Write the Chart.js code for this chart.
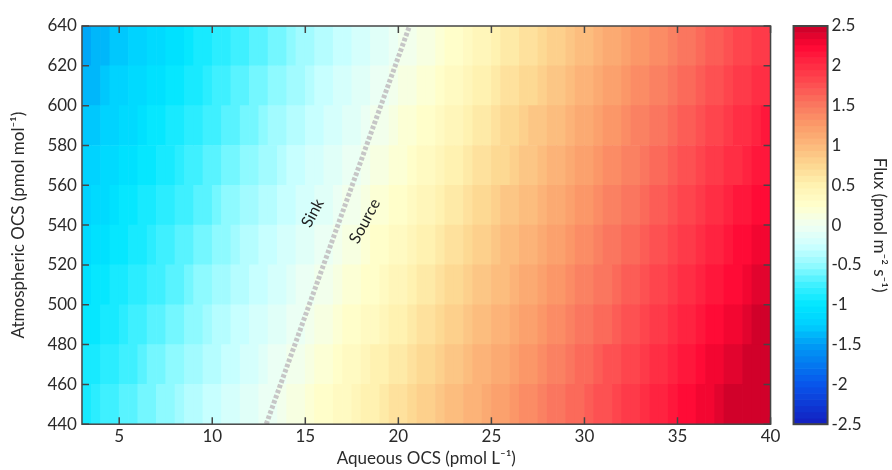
<!DOCTYPE html>
<html>
<head>
<meta charset="utf-8">
<title>OCS flux</title>
<script src="https://cdn.jsdelivr.net/npm/chart.js@4.4.1/dist/chart.umd.min.js"></script>
<style>
  body { margin: 0; background: #fff; }
  #wrap { width: 892px; height: 470px; }
</style>
</head>
<body>
<div id="wrap"><canvas id="chart"></canvas></div>
<script>
// cell centres, aqueous OCS (pmol L-1), 0.5 wide
const aqueousOCS = [3.25, 3.75, 4.25, 4.75, 5.25, 5.75, 6.25, 6.75, 7.25, 7.75,
  8.25, 8.75, 9.25, 9.75, 10.25, 10.75, 11.25, 11.75, 12.25, 12.75,
  13.25, 13.75, 14.25, 14.75, 15.25, 15.75, 16.25, 16.75, 17.25, 17.75,
  18.25, 18.75, 19.25, 19.75, 20.25, 20.75, 21.25, 21.75, 22.25, 22.75,
  23.25, 23.75, 24.25, 24.75, 25.25, 25.75, 26.25, 26.75, 27.25, 27.75,
  28.25, 28.75, 29.25, 29.75, 30.25, 30.75, 31.25, 31.75, 32.25, 32.75,
  33.25, 33.75, 34.25, 34.75, 35.25, 35.75, 36.25, 36.75, 37.25, 37.75,
  38.25, 38.75, 39.25, 39.75];

// row centres, atmospheric OCS (pmol mol-1), 20 tall
const atmosphericOCS = [450, 470, 490, 510, 530, 550, 570, 590, 610, 630];

// flux (pmol m-2 s-1), one row per atmospheric level
const flux450 = [-0.86,-0.81,-0.77,-0.73,-0.69,-0.64,-0.60,-0.56,-0.52,-0.47,
  -0.43,-0.39,-0.35,-0.30,-0.26,-0.22,-0.18,-0.13,-0.09,-0.05,
  -0.01,0.04,0.09,0.14,0.19,0.24,0.29,0.34,0.39,0.44,
  0.49,0.54,0.59,0.64,0.69,0.74,0.79,0.84,0.89,0.94,
  0.99,1.04,1.09,1.14,1.19,1.24,1.29,1.34,1.39,1.44,
  1.49,1.54,1.59,1.64,1.69,1.74,1.79,1.84,1.89,1.94,
  1.99,2.04,2.09,2.14,2.19,2.24,2.29,2.34,2.39,2.44,
  2.49,2.54,2.59,2.64];
const flux470 = [-0.92,-0.88,-0.84,-0.79,-0.75,-0.71,-0.67,-0.62,-0.58,-0.54,
  -0.50,-0.45,-0.41,-0.37,-0.33,-0.28,-0.24,-0.20,-0.16,-0.11,
  -0.07,-0.03,0.02,0.07,0.12,0.17,0.22,0.27,0.32,0.37,
  0.42,0.47,0.52,0.57,0.62,0.67,0.72,0.77,0.82,0.87,
  0.92,0.97,1.02,1.07,1.12,1.17,1.22,1.27,1.32,1.37,
  1.42,1.47,1.52,1.57,1.62,1.67,1.72,1.77,1.82,1.87,
  1.92,1.97,2.02,2.07,2.12,2.17,2.22,2.27,2.32,2.37,
  2.42,2.47,2.52,2.57];
const flux490 = [-0.99,-0.94,-0.90,-0.86,-0.82,-0.77,-0.73,-0.69,-0.65,-0.60,
  -0.56,-0.52,-0.48,-0.43,-0.39,-0.35,-0.31,-0.26,-0.22,-0.18,
  -0.14,-0.09,-0.05,-0.01,0.04,0.09,0.14,0.19,0.24,0.29,
  0.34,0.39,0.44,0.49,0.54,0.59,0.64,0.69,0.74,0.79,
  0.84,0.89,0.94,0.99,1.04,1.09,1.14,1.19,1.24,1.29,
  1.34,1.39,1.44,1.49,1.54,1.59,1.64,1.69,1.74,1.79,
  1.84,1.89,1.94,1.99,2.04,2.09,2.14,2.19,2.24,2.29,
  2.34,2.39,2.44,2.49];
const flux510 = [-1.05,-1.01,-0.97,-0.92,-0.88,-0.84,-0.80,-0.75,-0.71,-0.67,
  -0.63,-0.58,-0.54,-0.50,-0.46,-0.41,-0.37,-0.33,-0.29,-0.24,
  -0.20,-0.16,-0.12,-0.07,-0.03,0.01,0.06,0.11,0.16,0.21,
  0.26,0.31,0.36,0.41,0.46,0.51,0.56,0.61,0.66,0.71,
  0.76,0.81,0.86,0.91,0.96,1.01,1.06,1.11,1.16,1.21,
  1.26,1.31,1.36,1.41,1.46,1.51,1.56,1.61,1.66,1.71,
  1.76,1.81,1.86,1.91,1.96,2.01,2.06,2.11,2.16,2.21,
  2.26,2.31,2.36,2.41];
const flux530 = [-1.12,-1.07,-1.03,-0.99,-0.95,-0.90,-0.86,-0.82,-0.78,-0.73,
  -0.69,-0.65,-0.61,-0.56,-0.52,-0.48,-0.44,-0.39,-0.35,-0.31,
  -0.27,-0.22,-0.18,-0.14,-0.10,-0.05,-0.01,0.04,0.09,0.14,
  0.19,0.24,0.29,0.34,0.39,0.44,0.49,0.54,0.59,0.64,
  0.69,0.74,0.79,0.84,0.89,0.94,0.99,1.04,1.09,1.14,
  1.19,1.24,1.29,1.34,1.39,1.44,1.49,1.54,1.59,1.64,
  1.69,1.74,1.79,1.84,1.89,1.94,1.99,2.04,2.09,2.14,
  2.19,2.24,2.29,2.34];
const flux550 = [-1.18,-1.14,-1.10,-1.05,-1.01,-0.97,-0.93,-0.88,-0.84,-0.80,
  -0.76,-0.71,-0.67,-0.63,-0.59,-0.54,-0.50,-0.46,-0.42,-0.37,
  -0.33,-0.29,-0.25,-0.20,-0.16,-0.12,-0.08,-0.03,0.01,0.06,
  0.11,0.16,0.21,0.26,0.31,0.36,0.41,0.46,0.51,0.56,
  0.61,0.66,0.71,0.76,0.81,0.86,0.91,0.96,1.01,1.06,
  1.11,1.16,1.21,1.26,1.31,1.36,1.41,1.46,1.51,1.56,
  1.61,1.66,1.71,1.76,1.81,1.86,1.91,1.96,2.01,2.06,
  2.11,2.16,2.21,2.26];
const flux570 = [-1.25,-1.20,-1.16,-1.12,-1.08,-1.03,-0.99,-0.95,-0.91,-0.86,
  -0.82,-0.78,-0.74,-0.69,-0.65,-0.61,-0.57,-0.52,-0.48,-0.44,
  -0.40,-0.35,-0.31,-0.27,-0.23,-0.18,-0.14,-0.10,-0.06,-0.01,
  0.03,0.08,0.13,0.18,0.23,0.28,0.33,0.38,0.43,0.48,
  0.53,0.58,0.63,0.68,0.73,0.78,0.83,0.88,0.93,0.98,
  1.03,1.08,1.13,1.18,1.23,1.28,1.33,1.38,1.43,1.48,
  1.53,1.58,1.63,1.68,1.73,1.78,1.83,1.88,1.93,1.98,
  2.03,2.08,2.13,2.18];
const flux590 = [-1.31,-1.27,-1.23,-1.18,-1.14,-1.10,-1.06,-1.01,-0.97,-0.93,
  -0.89,-0.84,-0.80,-0.76,-0.72,-0.67,-0.63,-0.59,-0.55,-0.50,
  -0.46,-0.42,-0.38,-0.33,-0.29,-0.25,-0.21,-0.16,-0.12,-0.08,
  -0.04,0.01,0.06,0.11,0.16,0.21,0.26,0.31,0.36,0.41,
  0.46,0.51,0.56,0.61,0.66,0.71,0.76,0.81,0.86,0.91,
  0.96,1.01,1.06,1.11,1.16,1.21,1.26,1.31,1.36,1.41,
  1.46,1.51,1.56,1.61,1.66,1.71,1.76,1.81,1.86,1.91,
  1.96,2.01,2.06,2.11];
const flux610 = [-1.38,-1.33,-1.29,-1.25,-1.21,-1.16,-1.12,-1.08,-1.04,-0.99,
  -0.95,-0.91,-0.87,-0.82,-0.78,-0.74,-0.70,-0.65,-0.61,-0.57,
  -0.53,-0.48,-0.44,-0.40,-0.36,-0.31,-0.27,-0.23,-0.19,-0.14,
  -0.10,-0.06,-0.02,0.03,0.08,0.13,0.18,0.23,0.28,0.33,
  0.38,0.43,0.48,0.53,0.58,0.63,0.68,0.73,0.78,0.83,
  0.88,0.93,0.98,1.03,1.08,1.13,1.18,1.23,1.28,1.33,
  1.38,1.43,1.48,1.53,1.58,1.63,1.68,1.73,1.78,1.83,
  1.88,1.93,1.98,2.03];
const flux630 = [-1.44,-1.40,-1.36,-1.31,-1.27,-1.23,-1.19,-1.14,-1.10,-1.06,
  -1.02,-0.97,-0.93,-0.89,-0.85,-0.80,-0.76,-0.72,-0.68,-0.63,
  -0.59,-0.55,-0.51,-0.46,-0.42,-0.38,-0.34,-0.29,-0.25,-0.21,
  -0.17,-0.12,-0.08,-0.04,0.00,0.05,0.10,0.15,0.20,0.25,
  0.30,0.35,0.40,0.45,0.50,0.55,0.60,0.65,0.70,0.75,
  0.80,0.85,0.90,0.95,1.00,1.05,1.10,1.15,1.20,1.25,
  1.30,1.35,1.40,1.45,1.50,1.55,1.60,1.65,1.70,1.75,
  1.80,1.85,1.90,1.95];
const fluxRows = [flux450, flux470, flux490, flux510, flux530, flux550, flux570, flux590, flux610, flux630];

// zero-flux line between sink and source
const boundaryAqueous = [12.9, 20.6];
const boundaryAtm = [440, 640];

const xTicks = [5, 10, 15, 20, 25, 30, 35, 40];
const yTicks = [440, 460, 480, 500, 520, 540, 560, 580, 600, 620, 640];
const fluxTicks = [-2.5, -2, -1.5, -1, -0.5, 0, 0.5, 1, 1.5, 2, 2.5];

// colour map (value, r, g, b), 64 steps like the colour bar
const cmapStops = [
  [-2.5, 20, 30, 190], [-2.0, 8, 85, 235], [-1.5, 0, 155, 245], [-1.25, 0, 208, 255],
  [-1.0, 0, 230, 255], [-0.75, 60, 240, 255], [-0.5, 145, 250, 255], [-0.25, 205, 255, 255],
  [0, 240, 255, 242], [0.25, 255, 255, 205], [0.5, 255, 243, 178], [0.75, 253, 216, 146],
  [1.0, 252, 186, 124], [1.25, 251, 156, 106], [1.5, 250, 122, 96], [1.75, 253, 82, 82],
  [2.0, 255, 45, 68], [2.25, 255, 8, 52], [2.5, 200, 0, 40]
];
const LEVELS = 64;

function fluxColor(v) {
  let lvl = Math.floor((v + 2.5) / 5 * LEVELS);
  lvl = Math.max(0, Math.min(LEVELS - 1, lvl));
  const t = -2.5 + (lvl + 0.5) * 5 / LEVELS;
  for (let i = 1; i < cmapStops.length; i++) {
    const a = cmapStops[i - 1], b = cmapStops[i];
    if (t <= b[0]) {
      const f = (t - a[0]) / (b[0] - a[0]);
      const c = [1, 2, 3].map(k => Math.round(a[k] + (b[k] - a[k]) * f));
      return 'rgb(' + c.join(',') + ')';
    }
  }
  return 'rgb(200,0,40)';
}

const FONT = "Lato, 'Open Sans', sans-serif";
Chart.defaults.font.family = FONT;
Chart.defaults.color = '#2a2a2a';

const datasets = atmosphericOCS.map((atm, r) => ({
  type: 'bar',
  data: aqueousOCS.map(aq => ({x: aq, y: [atm - 10, atm + 10]})),
  backgroundColor: fluxRows[r].map(fluxColor),
  borderWidth: 0,
  grouped: false,
  barPercentage: 1,
  categoryPercentage: 1,
  order: 2
}));
datasets.push({
  type: 'line',
  data: boundaryAqueous.map((aq, i) => ({x: aq, y: boundaryAtm[i]})),
  borderColor: '#c6c6c6',
  borderWidth: 5,
  borderDash: [3.5, 2],
  pointRadius: 0,
  order: 0
});

const AXIS = '#454545';

const decor = {
  id: 'decor',
  afterDraw(chart) {
    const {ctx, chartArea: a, scales} = chart;
    ctx.save();
    ctx.strokeStyle = AXIS;
    ctx.lineWidth = 1.5;
    ctx.strokeRect(a.left, a.top, a.right - a.left, a.bottom - a.top);

    ctx.beginPath();
    xTicks.forEach(v => {
      const px = scales.x.getPixelForValue(v);
      ctx.moveTo(px, a.bottom); ctx.lineTo(px, a.bottom - 7);
      ctx.moveTo(px, a.top); ctx.lineTo(px, a.top + 7);
    });
    yTicks.forEach(v => {
      const py = scales.y.getPixelForValue(v);
      ctx.moveTo(a.left, py); ctx.lineTo(a.left + 7, py);
      ctx.moveTo(a.right, py); ctx.lineTo(a.right - 7, py);
    });
    ctx.stroke();

    // colour bar
    const cb = scales.cb;
    const x0 = a.right + 23, x1 = a.right + 57;
    for (let i = 0; i < LEVELS; i++) {
      const lo = -2.5 + i * 5 / LEVELS, hi = lo + 5 / LEVELS;
      const yTop = cb.getPixelForValue(hi), yBot = cb.getPixelForValue(lo);
      ctx.fillStyle = fluxColor(lo + 2.5 / LEVELS);
      ctx.fillRect(x0, yTop, x1 - x0, yBot - yTop + 0.6);
    }
    ctx.strokeStyle = AXIS;
    ctx.lineWidth = 2;
    ctx.strokeRect(x0, cb.top, x1 - x0, cb.bottom - cb.top);

    // sink / source labels
    ctx.fillStyle = '#222';
    ctx.font = '16px ' + FONT;
    ctx.textAlign = 'center';
    ctx.textBaseline = 'middle';
    [['Sink', 15.4, 546], ['Source', 18.2, 542]].forEach(([txt, aq, atm]) => {
      ctx.save();
      ctx.translate(scales.x.getPixelForValue(aq), scales.y.getPixelForValue(atm));
      ctx.rotate(-62 * Math.PI / 180);
      ctx.fillText(txt, 0, 0);
      ctx.restore();
    });
    ctx.restore();
  }
};

new Chart(document.getElementById('chart'), {
  type: 'bar',
  data: {datasets: datasets},
  options: {
    responsive: true,
    maintainAspectRatio: false,
    animation: false,
    layout: {padding: {left: 8, right: 0, top: 26, bottom: 0}},
    plugins: {legend: {display: false}, tooltip: {enabled: false}},
    scales: {
      x: {
        type: 'linear', min: 3, max: 40, offset: false,
        afterBuildTicks: s => { s.ticks = xTicks.map(v => ({value: v})); },
        grid: {display: false, drawTicks: false, offset: false},
        border: {display: false},
        ticks: {font: {size: 17}, padding: 2, maxRotation: 0, autoSkip: false},
        title: {display: true, text: 'Aqueous OCS (pmol L⁻¹)', font: {size: 17}, padding: {top: 0, bottom: 1}}
      },
      y: {
        type: 'linear', min: 440, max: 640,
        afterBuildTicks: s => { s.ticks = yTicks.map(v => ({value: v})); },
        grid: {display: false, drawTicks: false},
        border: {display: false},
        ticks: {font: {size: 17}, padding: 5, autoSkip: false},
        title: {display: true, text: 'Atmospheric OCS (pmol mol⁻¹)', font: {size: 17}, padding: {top: 0, bottom: 14}}
      },
      cb: {
        type: 'linear', position: 'right', min: -2.5, max: 2.5,
        afterBuildTicks: s => { s.ticks = fluxTicks.map(v => ({value: v})); },
        grid: {drawOnChartArea: false, drawTicks: true, tickLength: 57, tickColor: 'rgba(0,0,0,0)'},
        border: {display: false},
        ticks: {font: {size: 17}, padding: 4, autoSkip: false, callback: v => String(v)},
        title: {display: true, text: 'Flux (pmol m⁻² s⁻¹)', font: {size: 17}, padding: {top: 2, bottom: 4}}
      }
    }
  },
  plugins: [decor]
});
</script>
</body>
</html>
